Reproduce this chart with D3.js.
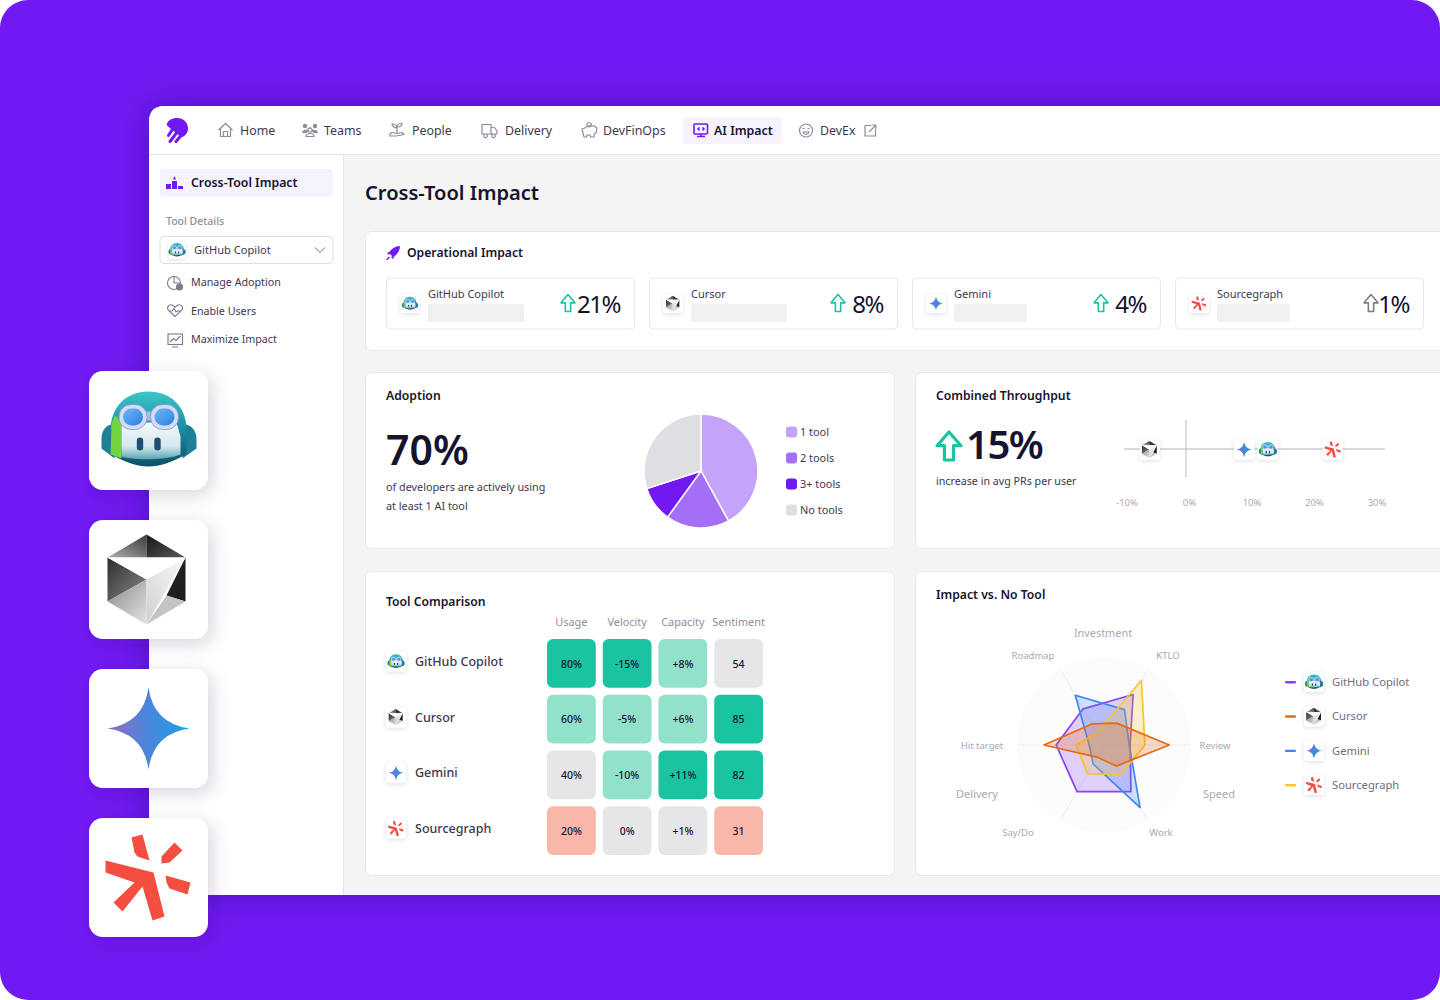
<!DOCTYPE html>
<html>
<head>
<meta charset="utf-8">
<title>Cross-Tool Impact</title>
<script src="https://cdn.jsdelivr.net/npm/d3@7"></script>
<style>
  html, body { margin: 0; background: #fff; }
  svg { display: block; font-family: "Noto Sans", sans-serif; }
</style>
</head>
<body>
<div class="chart"></div>
<script>
// Data
var tools = ["GitHub Copilot", "Cursor", "Gemini", "Sourcegraph"];
var toolIds = ["copilot", "cursor", "gemini", "sourcegraph"];

var navLabels = ["Home", "Teams", "People", "Delivery", "DevFinOps", "AI Impact", "DevEx"];
var sideLabels = ["Manage Adoption", "Enable Users", "Maximize Impact"];

var operationalImpact = [21, 8, 4, 1];

var adoptionLabels = ["1 tool", "2 tools", "3+ tools", "No tools"];
var adoptionValues = [42, 18, 10, 30];

var throughputTicks = [-10, 0, 10, 20, 30];
var throughputValues = [13.1, -5.8, 9.3, 23.5];

var metricLabels = ["Usage", "Velocity", "Capacity", "Sentiment"];
var copilotCells = ["80%", "-15%", "+8%", "54"];
var cursorCells = ["60%", "-5%", "+6%", "85"];
var geminiCells = ["40%", "-10%", "+11%", "82"];
var sourcegraphCells = ["20%", "0%", "+1%", "31"];
var copilotLevels = ["high", "high", "mid", "flat"];
var cursorLevels = ["mid", "mid", "mid", "high"];
var geminiLevels = ["flat", "mid", "high", "high"];
var sourcegraphLevels = ["low", "flat", "flat", "low"];

var radarAxes = ["KTLO", "Review", "Work", "Say/Do", "Hit target", "Roadmap"];
var copilotRadar = [67, 30, 62, 62, 55, 48];
var cursorRadar = [29, 75, 28, 16, 69, 28];
var geminiRadar = [47, 29, 83, 25, 17, 66];
var sourcegraphRadar = [86, 47, 39, 38, 32, 16];

var ink = "#15132e";
var body = "#3b3950";
var muted = "#8f8e9c";
var teal = "#1ac4a0";
var violet = "#7119f3";
var toolColors = { copilot: "#8a44ee", cursor: "#e8690f", gemini: "#3d87f2", sourcegraph: "#f6c62e" };

var svg = d3.select(".chart").append("svg")
  .attr("width", 1440)
  .attr("height", 1000);

var defs = svg.append("defs");

function dropShadow(id, dx, dy, blur, opacity, color) {
  defs.append("filter").attr("id", id)
    .attr("x", "-40%").attr("y", "-40%").attr("width", "180%").attr("height", "180%")
    .append("feDropShadow")
    .attr("dx", dx).attr("dy", dy).attr("stdDeviation", blur)
    .attr("flood-color", color).attr("flood-opacity", opacity);
}
dropShadow("tileShadow", 4, 5, 9, 0.17, "#1c1440");
dropShadow("smallShadow", 0, 1.5, 2, 0.12, "#1c1440");
dropShadow("windowShadow", 0, 0, 16, 0.32, "#1a0a55");

function gradient(id, x1, y1, x2, y2, stops) {
  var g = defs.append("linearGradient").attr("id", id)
    .attr("x1", x1).attr("y1", y1).attr("x2", x2).attr("y2", y2);
  stops.forEach(function(s) {
    g.append("stop").attr("offset", s[0]).attr("stop-color", s[1]);
  });
}
gradient("geminiFill", 0, 0.5, 1, 0.5, [[0, "#8f6cc4"], [0.5, "#4a86dc"], [1, "#1ba0e6"]]);
gradient("copilotHead", 0, 0, 0, 1, [[0, "#3cc6c6"], [0.5, "#1d8ca8"], [1, "#0e4f66"]]);
gradient("copilotFace", 0, 0, 0, 1, [[0, "#f4f9fa"], [0.65, "#d5e8ee"], [1, "#5aa3b4"]]);
gradient("copilotGlass", 0, 0, 1, 1, [[0, "#6ab8f4"], [1, "#2f7fe0"]]);
gradient("cubeTopL", 1, 0, 0, 1, [[0, "#3a3a3a"], [1, "#b0b0b0"]]);
gradient("cubeTopR", 0, 0, 1, 1, [[0, "#141414"], [1, "#5a5a5a"]]);
gradient("cubeLeft", 0, 0, 1, 1, [[0, "#2e2e2e"], [1, "#8a8a8a"]]);
gradient("cubeBottom", 0, 0, 1, 1, [[0, "#888"], [1, "#e4e4e4"]]);
gradient("cubeWedge", 1, 0, 0, 1, [[0, "#fafafa"], [1, "#d0d0d0"]]);

function text(g, x, y, str, size, weight, fill, anchor) {
  return g.append("text")
    .attr("x", x)
    .attr("y", y)
    .attr("dy", "0.35em")
    .attr("font-size", size)
    .attr("font-weight", weight)
    .attr("fill", fill)
    .attr("text-anchor", anchor || "start")
    .text(str);
}

function poly(g, pts, fill) {
  return g.append("polygon").attr("points", pts.join(" ")).attr("fill", fill);
}

// Tool logos, drawn in a box about 100 units wide around 0,0
function drawLogo(g, id) {
  if (id == "copilot") {
    g.append("path").attr("d", "M-36,-6 C-42,-6 -47,0 -47,8 L-47,18 L-34,28Z").attr("fill", "#1d7f98");
    g.append("path").attr("d", "M36,-6 C42,-6 48,0 48,8 L48,18 L34,28Z").attr("fill", "#1d7f98");
    g.append("path").attr("d", "M-38,24 L-38,0 C-38,-24 -22,-39 0,-39 C22,-39 38,-24 38,0 L38,24 C22,32 12,36 0,36 C-12,36 -22,32 -38,24Z").attr("fill", "url(#copilotHead)");
    g.append("path").attr("d", "M-38,24 L-37,-6 C-36,-10 -35,-13 -33,-15 L-27,-8 L-27,28Z").attr("fill", "#72d440");
    g.append("path").attr("d", "M-27,-8 L28,-8 L32,6 L32,24 C16,30 -14,30 -27,26Z").attr("fill", "url(#copilotFace)");
    g.append("rect").attr("x", -6).attr("y", -19).attr("width", 14).attr("height", 9).attr("fill", "#a9b9ea");
    [-15.5, 16].forEach(function(cx) {
      g.append("rect").attr("x", cx - 14).attr("y", -26).attr("width", 28).attr("height", 25).attr("rx", 12).attr("fill", "#d4dcf6").attr("stroke", "#7f93d6").attr("stroke-width", 0.8);
      g.append("rect").attr("x", cx - 10).attr("y", -22).attr("width", 20).attr("height", 17).attr("rx", 8.5).attr("fill", "url(#copilotGlass)");
    });
    [-8.5, 9].forEach(function(cx) {
      g.append("rect").attr("x", cx - 3.2).attr("y", 7).attr("width", 6.4).attr("height", 13).attr("rx", 3.2).attr("fill", "#1d4e74");
    });
  }
  if (id == "cursor") {
    var T = [-2, -45], UR = [37, -22], LR = [37, 22], B = [-2, 45], LL = [-41, 22], UL = [-41, -22], C = [-2, 0], N = [-2, -22], W = [18, 16];
    poly(g, [T, UL, N], "url(#cubeTopL)");
    poly(g, [T, UR, N], "url(#cubeTopR)");
    poly(g, [UL, C, LL], "url(#cubeLeft)");
    poly(g, [LL, C, B], "url(#cubeBottom)");
    poly(g, [UR, LR, W], "#1f1f1f");
    poly(g, [LR, B, W], "#c4c4c4");
    poly(g, [C, UR, B], "url(#cubeWedge)");
    poly(g, [UL, UR, C], "#ffffff");
  }
  if (id == "gemini") {
    g.append("path").attr("d", "M0,-41 Q5,-5 41,0 Q5,5 0,41 Q-5,5 -41,0 Q-5,-5 0,-41Z").attr("fill", "url(#geminiFill)");
  }
  if (id == "sourcegraph") {
    var red = "#f34e3f";
    poly(g, [[-43, -17], [5, -5], [16, 39], [4, 43], [-6, 9], [-26, 34], [-35, 25], [-14, 5], [-43, -5]], red);
    poly(g, [[-17, -40], [-6, -43], [1, -17], [-11, -21], [-14, -25]], red);
    poly(g, [[26, -35], [34, -27], [21, -15], [13, -14], [13, -21]], red);
    poly(g, [[17, -2], [42, 5], [39, 17], [21, 11], [18, 5]], red);
  }
}

// white tile + logo
function logoTile(parent, cx, cy, id, size, logoScale, radius, filter) {
  var g = parent.append("g").attr("transform", `translate(${cx}, ${cy})`);
  g.append("rect")
    .attr("x", -size / 2).attr("y", -size / 2)
    .attr("width", size).attr("height", size)
    .attr("rx", radius).attr("fill", "#fff")
    .attr("filter", `url(#${filter})`);
  drawLogo(g.append("g").attr("transform", `scale(${logoScale})`), id);
}

function upArrow(g, cx, cy, w, h, color, sw) {
  var hw = w / 2, hh = h / 2, st = w * 0.19;
  g.append("path")
    .attr("transform", `translate(${cx}, ${cy})`)
    .attr("d", `M0,${-hh} L${hw},${-hh * 0.02} L${st},${-hh * 0.02} L${st},${hh} L${-st},${hh} L${-st},${-hh * 0.02} L${-hw},${-hh * 0.02}Z`)
    .attr("fill", "none")
    .attr("stroke", color)
    .attr("stroke-width", sw)
    .attr("stroke-linejoin", "round");
}

// Page background and app window
svg.append("clipPath").attr("id", "pageClip").append("rect").attr("width", 1440).attr("height", 1000).attr("rx", 28);
var page = svg.append("g").attr("clip-path", "url(#pageClip)");
page.append("rect").attr("width", 1440).attr("height", 1000).attr("fill", violet);
page.append("path")
  .attr("d", "M165,106 L1500,106 L1500,895 L149,895 L149,122 Q149,106 165,106Z")
  .attr("fill", "#f4f4f5")
  .attr("filter", "url(#windowShadow)");

// Sidebar and nav
var chrome = svg.append("g");
chrome.append("path").attr("d", "M165,106 L1440,106 L1440,155 L343.5,155 L343.5,895 L149,895 L149,122 Q149,106 165,106Z").attr("fill", "#fff");
chrome.append("line").attr("x1", 149).attr("x2", 1440).attr("y1", 154.5).attr("y2", 154.5).attr("stroke", "#e3e3e6");
chrome.append("line").attr("x1", 343.5).attr("x2", 343.5).attr("y1", 155).attr("y2", 895).attr("stroke", "#e3e3e6");

// Logo
chrome.append("path").attr("d", "M166.5,125 C167.5,120.5 172,118 177,118 C183.5,118 188,122.5 188,128.5 C188,132.5 185.5,136 181.5,137.5 C178,134.5 172,130 166.5,125Z").attr("fill", violet);
chrome.append("path").attr("d", "M172,130 L168.5,135.5 M176.5,133 L170,141.5 M181,135.5 L176,141.5")
  .attr("stroke", violet).attr("stroke-width", 3).attr("stroke-linecap", "round").attr("fill", "none");

var navText = [240, 324, 412, 505, 603, 714, 820];
chrome.append("rect").attr("x", 683).attr("y", 117).attr("width", 99).attr("height", 27).attr("rx", 4).attr("fill", "#f6f2fe");
navLabels.forEach(function(d, i) {
  text(chrome, navText[i], 130.5, d, 12.4, d == "AI Impact" ? 600 : 400, d == "AI Impact" ? ink : body);
});

var navIcon = chrome.append("g").attr("fill", "none").attr("stroke", "#8d8c9c").attr("stroke-width", 1.2).attr("stroke-linejoin", "round");
navIcon.append("path").attr("d", "M218.5,130 L225.5,123.5 L232.5,130 M220.5,128.5 L220.5,136.5 L230.5,136.5 L230.5,128.5 M223.5,136.5 L223.5,131.5 L227.5,131.5 L227.5,136.5");
var teamsIcon = chrome.append("g").attr("fill", "#8d8c9c");
teamsIcon.append("circle").attr("cx", 305).attr("cy", 126).attr("r", 2.2);
teamsIcon.append("circle").attr("cx", 315).attr("cy", 126).attr("r", 2.2);
teamsIcon.append("path").attr("d", "M302,133 C302,129.5 308,129 308.5,131 L306.5,133Z M318,133 C318,129.5 312,129 311.5,131 L313.5,133Z");
navIcon.append("circle").attr("cx", 310).attr("cy", 130).attr("r", 2.1);
navIcon.append("path").attr("d", "M306,136.5 C306,132.5 314,132.5 314,136.5Z");
navIcon.append("path").attr("d", "M390,136 L396,136 L404,134.5 L402,132.5 L397,133.5 L392,132.5 L390,134Z M397,133 L397,128 M397,128 C394,128 392,126 392,124 C395,124 397,125 397,128 M397,126.5 C397,124.5 399,123.5 402,123.5 C402,126 400,127 397,127");
navIcon.append("path").attr("d", "M482,124.5 L491,124.5 L491,134 L482,134Z M491,127.5 L494.5,127.5 L497,131 L497,134 L491,134 M485.5,134 a1.8,1.8 0 1 0 .1,0Z M493.5,134 a1.8,1.8 0 1 0 .1,0Z");
navIcon.append("path").attr("d", "M582,129 L585,128 C587,125.5 592,125 595,126.5 L597,128 L596,133 L594,134 L594,137 L590.5,137 L590,135 L587,135 L586.5,137 L584,137 L583,133Z M589,122.5 a2.2,2.2 0 1 0 .1,0Z");
navIcon.append("circle").attr("cx", 806).attr("cy", 130.5).attr("r", 6.5);
navIcon.append("path").attr("d", "M803,132 C804,135 808,135 809,132Z M802.5,128.5 L804.5,128.5 M807.5,128.5 L809.5,128.5");
navIcon.append("path").attr("d", "M871,125.5 L865,125.5 L865,136 L875.5,136 L875.5,130 M869,132 L875.5,125.5 M871.5,125 L875.8,125 L875.8,129.5");

var aiIcon = chrome.append("g").attr("fill", "none").attr("stroke", violet).attr("stroke-width", 1.6);
aiIcon.append("rect").attr("x", 694).attr("y", 124).attr("width", 13.5).attr("height", 10).attr("rx", 1);
aiIcon.append("path").attr("d", "M697,136.5 L705,136.5 M701,134 L701,136.5 M699.5,127.5 L698,129 L699.5,130.5 M702.5,127.5 L704,129 L702.5,130.5");

// Sidebar content
chrome.append("rect").attr("x", 160).attr("y", 169).attr("width", 173).attr("height", 28).attr("rx", 4).attr("fill", "#f6f2fe");
var podium = chrome.append("g").attr("fill", violet);
podium.append("rect").attr("x", 166).attr("y", 184).attr("width", 5).attr("height", 5);
podium.append("rect").attr("x", 172).attr("y", 181).attr("width", 5).attr("height", 8);
podium.append("rect").attr("x", 178).attr("y", 186).attr("width", 5).attr("height", 3);
podium.append("path").attr("d", "M174.5,176 L176,179.5 L173,179.5Z");
text(chrome, 191, 183, "Cross-Tool Impact", 12.3, 600, ink);
text(chrome, 166, 221, "Tool Details", 10.5, 500, muted);

chrome.append("rect").attr("x", 160).attr("y", 236.5).attr("width", 173).attr("height", 27).attr("rx", 4).attr("fill", "#fff").attr("stroke", "#dfdfe3");
logoTile(chrome, 177, 250, "copilot", 17, 0.18, 3, "smallShadow");
text(chrome, 194, 250, "GitHub Copilot", 11.1, 400, body);
chrome.append("path").attr("d", "M315,247.5 L320,252.5 L325,247.5").attr("fill", "none").attr("stroke", "#6c6b7e").attr("stroke-width", 1);

var sideY = d3.scalePoint().domain(sideLabels).range([282.5, 339.5]);
sideLabels.forEach(function(d) {
  text(chrome, 191, sideY(d), d, 10.7, 400, body);
});
var sideIcon = chrome.append("g").attr("fill", "none").attr("stroke", "#7b7a8e").attr("stroke-width", 1.1);
sideIcon.append("circle").attr("cx", 174).attr("cy", 283).attr("r", 6.5);
sideIcon.append("path").attr("d", "M174,276.5 L174,283 L180,283");
sideIcon.append("circle").attr("cx", 179.5).attr("cy", 287).attr("r", 3).attr("fill", "#7b7a8e");
sideIcon.append("path").attr("d", "M175,316.5 L168.5,310.5 C166,307 169,304 172,305 L175,307 L178,305 C181,304 184,307 181.5,310.5Z M169,311 L172,311 L174,308.5 L176,312 L177.5,311 L181,311");
sideIcon.append("rect").attr("x", 168).attr("y", 334).attr("width", 14.5).attr("height", 10.5);
sideIcon.append("path").attr("d", "M170,342 L173.5,338.5 L176,340.5 L180.5,336 M172,347 L178,347");

// Page title
text(svg, 365, 193, "Cross-Tool Impact", 20.1, 600, ink);

function card(x, y, w, h) {
  return svg.append("rect")
    .attr("x", x + 0.5).attr("y", y + 0.5)
    .attr("width", w).attr("height", h)
    .attr("rx", 6).attr("fill", "#fff")
    .attr("stroke", "#e9e9ec");
}

// Operational Impact
card(365, 231, 1100, 119);
var rocket = svg.append("g").attr("fill", violet);
rocket.append("path").attr("d", "M389,253 C391,249 395,246 400,246 C400,251 397,255 393,257Z");
rocket.append("path").attr("d", "M387,253 L391,251 L389,255Z M393,259 L395,255 L391,257Z M386,259.5 L389,256.5 L390,257.5 L387.5,260Z");
text(svg, 407, 253, "Operational Impact", 12.2, 600, ink);

var opsStep = 263;
var opsBarW = [96, 96, 73, 73];
var opsArrowX = [568, 838, 1101, 1371];
tools.forEach(function(d, i) {
  var x = 386 + opsStep * i;
  svg.append("rect").attr("x", x + 0.5).attr("y", 278).attr("width", 248).attr("height", 51).attr("rx", 4).attr("fill", "#fff").attr("stroke", "#e9e9ec");
  logoTile(svg, x + 24, 303.5, toolIds[i], 19, 0.17, 3, "smallShadow");
  text(svg, x + 42, 294, d, 11, 400, body);
  svg.append("rect").attr("x", x + 42).attr("y", 304).attr("width", opsBarW[i]).attr("height", 18).attr("rx", 2).attr("fill", "#f0f0f1");
  text(svg, x + 234, 305, operationalImpact[i] + "%", 24, 400, ink, "end").attr("letter-spacing", -1.5);
  upArrow(svg, opsArrowX[i], 303, 14, 17, i == 3 ? "#7d7c8c" : teal, 1.6);
});

// Adoption
card(365, 372, 529, 176);
text(svg, 386, 396, "Adoption", 12.2, 600, ink);
text(svg, 386, 451, "70%", 41, 600, ink);
text(svg, 386, 487, "of developers are actively using", 10.8, 400, body);
text(svg, 386, 506, "at least 1 AI tool", 10.8, 400, body);

var pieColor = d3.scaleOrdinal().domain(adoptionLabels).range(["#c4a4fa", "#a56ff5", "#7119f0", "#dfdfe3"]);
var pie = d3.pie().sort(null);
var arc = d3.arc().innerRadius(0).outerRadius(57);
svg.append("g")
  .attr("transform", "translate(701, 471)")
  .selectAll("path")
  .data(pie(adoptionValues))
  .enter()
  .append("path")
  .attr("d", arc)
  .attr("fill", function(d, i) { return pieColor(adoptionLabels[i]); })
  .attr("stroke", "#fff")
  .attr("stroke-width", 1.5);

var adoptionY = d3.scalePoint().domain(adoptionLabels).range([432, 510]);
adoptionLabels.forEach(function(d) {
  svg.append("rect").attr("x", 786).attr("y", adoptionY(d) - 5.5).attr("width", 11).attr("height", 11).attr("rx", 3).attr("fill", pieColor(d));
  text(svg, 800, adoptionY(d), d, 10.9, 400, body);
});

// Combined Throughput
card(915, 372, 550, 176);
text(svg, 936, 396, "Combined Throughput", 12.2, 600, ink);
upArrow(svg, 949, 446, 24, 28, teal, 3.2);
text(svg, 966, 445, "15%", 40, 600, ink).attr("letter-spacing", -1.5);
text(svg, 936, 481, "increase in avg PRs per user", 10.7, 400, body);

var x = d3.scaleLinear().domain([-10, 30]).range([1123.5, 1373.5]);
var xAxis = d3.axisBottom(x)
  .tickValues(throughputTicks)
  .tickSize(0)
  .tickPadding(0)
  .tickFormat(function(d) { return d + "%"; });

var axisG = svg.append("g").attr("transform", "translate(3, 499)").call(xAxis);
axisG.select(".domain").remove();
axisG.selectAll("text")
  .attr("font-family", "Noto Sans")
  .attr("font-size", 9.5)
  .attr("fill", "#aaa9b5");

svg.append("line").attr("x1", 1124).attr("x2", 1385).attr("y1", 449).attr("y2", 449).attr("stroke", "#b3b1c6");
svg.append("line").attr("x1", x(0)).attr("x2", x(0)).attr("y1", 420).attr("y2", 477).attr("stroke", "#c5c4cf").attr("stroke-width", 1.2);
tools.forEach(function(d, i) {
  logoTile(svg, x(throughputValues[i]), 449.5, toolIds[i], 20, 0.19, 3, "smallShadow");
});

// Tool Comparison
card(365, 571, 529, 304);
text(svg, 386, 602, "Tool Comparison", 12.2, 600, ink);

var colX = d3.scaleBand().domain(metricLabels).range([547, 763]).paddingInner(0.125);
var rowY = d3.scaleBand().domain(tools).range([639, 855]).paddingInner(0.125);
var levelColor = d3.scaleOrdinal().domain(["high", "mid", "flat", "low"]).range([teal, "#91e1cb", "#e6e6e8", "#f8b7a9"]);

var cellRows = [copilotCells, cursorCells, geminiCells, sourcegraphCells];
var levelRows = [copilotLevels, cursorLevels, geminiLevels, sourcegraphLevels];

metricLabels.forEach(function(d) {
  text(svg, colX(d) + colX.bandwidth() / 2, 622, d, 10.9, 400, muted, "middle");
});

var rows = svg.selectAll(".row").data(tools).enter().append("g").attr("class", "row");
rows.each(function(tool, r) {
  var row = d3.select(this);
  var cy = rowY(tool) + rowY.bandwidth() / 2;
  logoTile(row, 396, cy - 2, toolIds[r], 20, 0.18, 3, "smallShadow");
  text(row, 415, cy - 2, tool, 12.5, 500, body);
  metricLabels.forEach(function(m, c) {
    row.append("rect")
      .attr("x", colX(m)).attr("y", rowY(tool))
      .attr("width", colX.bandwidth()).attr("height", rowY.bandwidth())
      .attr("rx", 6)
      .attr("fill", levelColor(levelRows[r][c]));
    text(row, colX(m) + colX.bandwidth() / 2, cy + 0.5, cellRows[r][c], 10.5, 500, ink, "middle");
  });
});

// Impact vs. No Tool
card(915, 571, 550, 304);
text(svg, 936, 595, "Impact vs. No Tool", 12.2, 600, ink);

var radius = d3.scaleLinear().domain([0, 100]).range([0, 87]);
var angle = d3.scalePoint().domain(radarAxes).range([Math.PI / 6, Math.PI / 6 + Math.PI * 5 / 3]);
var radar = svg.append("g").attr("transform", "translate(1104, 745)");

radar.append("circle").attr("r", radius(100)).attr("fill", "#fcfcfd");
radarAxes.forEach(function(d) {
  var a = angle(d) - Math.PI / 2;
  radar.append("line")
    .attr("x2", radius(100) * Math.cos(a))
    .attr("y2", radius(100) * Math.sin(a))
    .attr("stroke", "#ecedf0");
});

var radarLine = d3.lineRadial()
  .angle(function(d, i) { return angle(radarAxes[i]); })
  .radius(function(d) { return radius(d); })
  .curve(d3.curveLinearClosed);

[[copilotRadar, "copilot"], [geminiRadar, "gemini"], [sourcegraphRadar, "sourcegraph"], [cursorRadar, "cursor"]].forEach(function(s) {
  radar.append("path")
    .attr("d", radarLine(s[0]))
    .attr("fill", toolColors[s[1]])
    .attr("fill-opacity", 0.24)
    .attr("stroke", toolColors[s[1]])
    .attr("stroke-width", 1.7)
    .attr("stroke-linejoin", "round");
});

var axisText = "#a9a8b4";
text(svg, 1103, 633, "Investment", 10.9, 400, axisText, "middle");
text(svg, 1033, 656, "Roadmap", 9.5, 400, axisText, "middle");
text(svg, 1168, 656, "KTLO", 9.5, 400, axisText, "middle");
text(svg, 1215, 746, "Review", 9.5, 400, axisText, "middle");
text(svg, 982, 746, "Hit target", 9.5, 400, axisText, "middle");
text(svg, 977, 794, "Delivery", 11, 400, axisText, "middle");
text(svg, 1219, 794, "Speed", 11, 400, axisText, "middle");
text(svg, 1018, 833, "Say/Do", 9.5, 400, axisText, "middle");
text(svg, 1161, 833, "Work", 9.5, 400, axisText, "middle");

var legendY = d3.scalePoint().domain(tools).range([682, 785]);
tools.forEach(function(d, i) {
  svg.append("rect").attr("x", 1285).attr("y", legendY(d) - 1).attr("width", 11).attr("height", 2.4).attr("rx", 1).attr("fill", toolColors[toolIds[i]]);
  logoTile(svg, 1314, legendY(d), toolIds[i], 20, 0.19, 3, "smallShadow");
  text(svg, 1332, legendY(d), d, 11.2, 400, "#6e6d7e");
});

// Large logo tiles
var bigY = d3.scalePoint().domain(toolIds).range([430.5, 877.5]);
toolIds.forEach(function(id) {
  logoTile(svg, 148.5, bigY(id), id, 119, 1, 14, "tileShadow");
});
</script>
</body>
</html>
